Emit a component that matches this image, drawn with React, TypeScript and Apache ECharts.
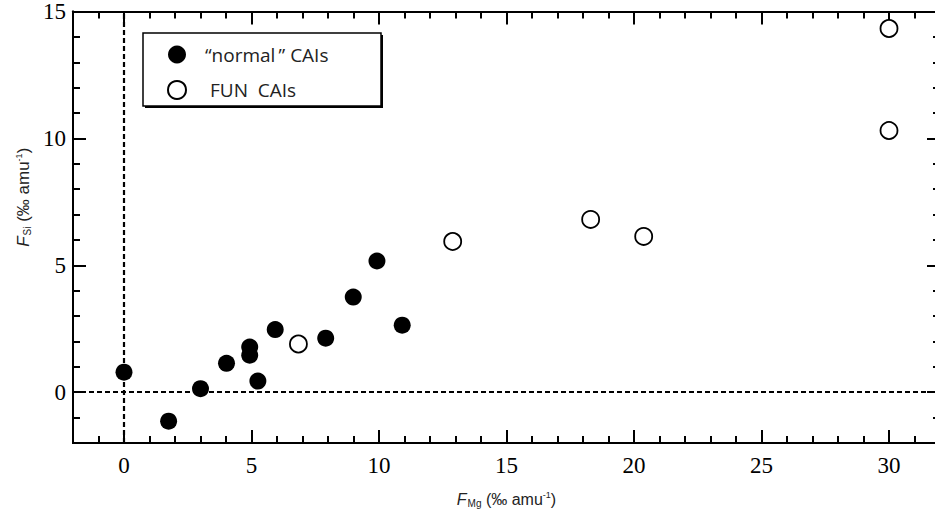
import React, { useEffect, useRef } from "react";
import * as echarts from "echarts";

const normalX = [0, 1.75, 3.0, 4.02, 4.93, 4.93, 5.25, 5.93, 7.91, 8.99, 9.92, 10.91];
const normalY = [0.79, -1.14, 0.14, 1.14, 1.78, 1.46, 0.44, 2.47, 2.13, 3.75, 5.17, 2.64];
const funX = [6.84, 12.89, 18.3, 20.38, 30.0, 30.0];
const funY = [1.9, 5.94, 6.81, 6.14, 10.31, 14.33];

const xMajor = [0, 5, 10, 15, 20, 25, 30];
const yMajor = [0, 5, 10, 15];
const xMin = -2;
const xMax = 32;
const yMin = -2;
const yMax = 15;

const legendNames = ["\u201Cnormal\u2009\u201D CAIs", "FUN  CAIs"];

const SERIF = "Liberation Serif";
const SANS = "Liberation Sans";

const nameRich = (size: number) => ({
  i: { fontStyle: "italic", fontSize: size, fontFamily: SANS, color: "#222" },
  sub: { fontSize: 10, fontFamily: SANS, color: "#222", padding: [7, 0, 0, 1] },
  n: { fontSize: size, fontFamily: SANS, color: "#222" },
  sup: { fontSize: 9, fontFamily: SANS, color: "#222", padding: [0, 0, 10, 0] },
});

export default function App() {
  const ref = useRef<HTMLDivElement>(null);
  useEffect(() => {
    if (!ref.current) return;
    const chart = echarts.init(ref.current, undefined, { renderer: "svg" });
    const line = { show: true, onZero: false, lineStyle: { color: "#000", width: 2 } };
    const mkAxis = (
      min: number,
      max: number,
      position: string,
      major: boolean,
      majorVals: number[],
      labels: boolean
    ): any => ({
      type: "value",
      min,
      max,
      position,
      ...(major ? {} : { interval: 1 }),
      splitLine: { show: false },
      axisLine: line,
      axisTick: major
        ? { show: true, inside: true, length: 13, customValues: majorVals, lineStyle: { color: "#000", width: 2 } }
        : { show: true, inside: true, length: 7, lineStyle: { color: "#000", width: 2 } },
      axisLabel: labels
        ? {
            show: true,
            customValues: majorVals,
            fontFamily: SERIF,
            fontSize: 23,
            color: "#000",
            margin: position === "bottom" ? 11 : 7,
          }
        : { show: false },
    });

    const xAxes = [
      {
        ...mkAxis(xMin, xMax, "bottom", true, xMajor, true),
        name: "{i|F}{sub|Mg}{n| (\u2030 amu}{sup|-1}{n|)}",
        nameLocation: "middle",
        nameGap: 47,
        nameTextStyle: { fontFamily: SANS, fontSize: 16, rich: nameRich(16), padding: [0, 0, 0, 0] },
      },
      mkAxis(xMin, xMax, "bottom", false, xMajor, false),
      mkAxis(xMin, xMax, "top", true, xMajor, false),
      mkAxis(xMin, xMax, "top", false, xMajor, false),
    ];
    const yAxes = [
      {
        ...mkAxis(yMin, yMax, "left", true, yMajor, true),
        name: "{i|F}{sub|Si}{n| (\u2030 amu}{sup|-1}{n|)}",
        nameLocation: "middle",
        nameGap: 38,
        nameTextStyle: { fontFamily: SANS, fontSize: 17, rich: nameRich(17), padding: [0, 0, 0, 60] },
      },
      mkAxis(yMin, yMax, "left", false, yMajor, false),
      mkAxis(yMin, yMax, "right", true, yMajor, false),
      mkAxis(yMin, yMax, "right", false, yMajor, false),
    ];

    chart.setOption({
      animation: false,
      backgroundColor: "#fff",
      grid: { left: 73, right: 5, top: 10, bottom: 72 },
      xAxis: xAxes,
      yAxis: yAxes,
      graphic: [
        { type: "rect", z: 0, shape: { x: 145, y: 35, width: 238, height: 73 }, style: { fill: "#000" } },
        {
          type: "rect",
          z: 1,
          shape: { x: 143, y: 33, width: 238, height: 73 },
          style: { fill: "#fff", stroke: "#000", lineWidth: 1.5 },
        },
      ],
      legend: {
        orient: "vertical",
        left: 167,
        top: 45,
        padding: 0,
        itemWidth: 18,
        itemHeight: 18,
        itemGap: 16,
        data: legendNames,
        formatter: (n: string) => (n === legendNames[1] ? "{b|" + n + "}" : "{a|" + n + "}"),
        textStyle: {
          rich: {
            a: { fontFamily: "Open Sans", fontSize: 19, color: "#222", padding: [0, 0, 0, 14] },
            b: { fontFamily: "Open Sans", fontSize: 19, color: "#222", padding: [0, 0, 0, 19] },
          },
        },
        z: 10,
      },
      series: [
        {
          type: "scatter",
          name: "dash",
          xAxisIndex: 0,
          yAxisIndex: 0,
          data: [],
          z: 1,
          silent: true,
          markLine: {
            silent: true,
            symbol: ["none", "none"],
            label: { show: false },
            lineStyle: { type: [5, 3], color: "#000", width: 2.2 },
            data: [{ xAxis: 0 }, { yAxis: 0 }],
          },
        },
        {
          type: "scatter",
          name: legendNames[0],
          xAxisIndex: 0,
          yAxisIndex: 0,
          symbol: "circle",
          symbolSize: 17,
          itemStyle: { color: "#000", opacity: 1 },
          data: normalX.map((x, i) => [x, normalY[i]]),
          z: 5,
        },
        {
          type: "scatter",
          name: legendNames[1],
          xAxisIndex: 0,
          yAxisIndex: 0,
          symbol: "circle",
          symbolSize: 17,
          itemStyle: { color: "#fff", borderColor: "#000", borderWidth: 1.8, opacity: 1 },
          data: funX.map((x, i) => [x, funY[i]]),
          z: 5,
        },
      ],
    });
    return () => chart.dispose();
  }, []);
  return (
    <div style={{ position: "fixed", left: 0, top: 0, width: 935, height: 515, overflow: "hidden", background: "#fff" }}>
      <div ref={ref} style={{ width: 945, height: 515 }} />
    </div>
  );
}
